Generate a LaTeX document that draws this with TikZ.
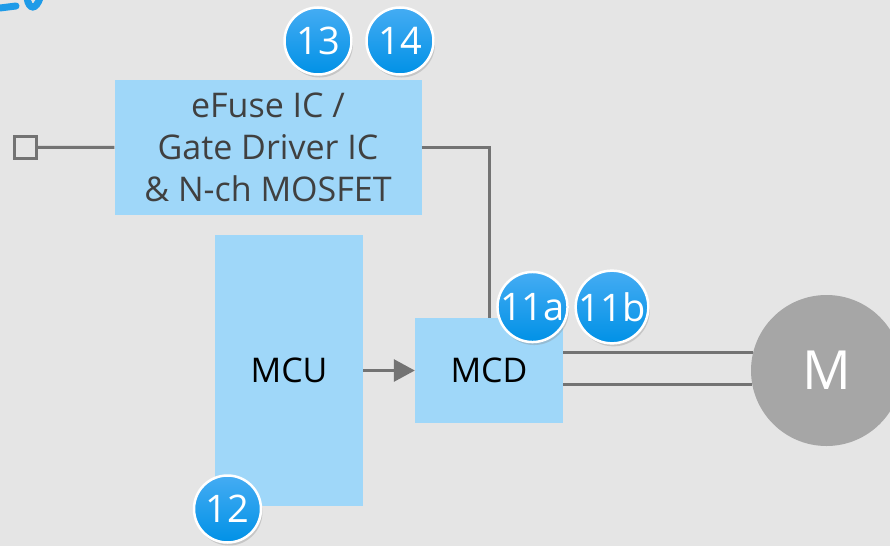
\documentclass[tikz,border=0pt]{standalone}
\usepackage{fontspec}
\setmainfont{Open Sans}
\usetikzlibrary{arrows.meta,shadows}

\definecolor{hintergrund}{HTML}{E5E5E5}
\definecolor{blockblau}{HTML}{9FD7F9}
\definecolor{linie}{HTML}{737373}
\definecolor{motorgrau}{HTML}{A6A6A6}
\definecolor{textgrau}{HTML}{404040}
\definecolor{markeoben}{HTML}{45ACF3}
\definecolor{markeunten}{HTML}{0091E6}
\definecolor{titelblau}{HTML}{1E9BE8}

\tikzset{
	block/.style={fill=blockblau, inner sep=0pt, font=\fontsize{34}{42}\selectfont},
	leitung/.style={draw=linie, line width=3pt},
	marke/.style={circle, draw=white, line width=2.5pt, minimum size=67pt, inner sep=0pt,
		top color=markeoben, bottom color=markeunten, text=white,
		drop shadow={opacity=0.3, shadow xshift=1.5pt, shadow yshift=-3pt},
		font=\fontsize{38}{38}\selectfont}
}

\begin{document}
\begin{tikzpicture}[x=1pt, y=-1pt]
		\useasboundingbox (0,0) rectangle (890,546);
		\fill[hintergrund] (0,0) rectangle (890,546);

		% zeichne Titelrest
		\draw[titelblau, line width=7pt, line cap=round] (0,8) -- (16,6);
		\draw[titelblau, line width=7pt, line cap=round] (27,-2) .. controls (29,10) and (36,10) .. (40,-2);

		% zeichne Bloecke
		\node[block, text=textgrau, minimum width=307pt, minimum height=135pt, align=center] (efuse) at (268,147)
			{eFuse IC /\\Gate Driver IC\\\& N-ch MOSFET};
		\node[block, minimum width=148pt, minimum height=271pt] (mcu) at (289,370.5) {MCU};
		\node[block, minimum width=148pt, minimum height=105pt] (mcd) at (489,370.5) {MCD};
		\node[circle, fill=motorgrau, text=white, minimum size=151pt, inner sep=0pt,
			font=\fontsize{54}{54}\selectfont] (motor) at (826.5,370.5) {M};
		\node[leitung, minimum size=22pt, inner sep=0pt] (klemme) at (25.5,147.5) {};

		% zeichne Verbindungen
		\draw[leitung] (klemme) -- (efuse);
		\draw[leitung] (efuse.east) -| (mcd.north);
		\draw[leitung, -{Triangle[length=21pt, width=22pt]}] (mcu) -- (mcd);
		\draw[leitung] (mcd.east |- motor.166) -- (motor.166);
		\draw[leitung] (mcd.east |- motor.191) -- (motor.191);

		% zeichne Marken
		\node[marke] (m13) at (318,41) {13};
		\node[marke] (m14) at (400,41) {14};
		\node[marke] (m11a) at (532.5,307) {11a};
		\node[marke] (m11b) at (612,307) {11b};
		\node[marke] (m12) at (227.5,509) {12};
	\end{tikzpicture}
\end{document}
